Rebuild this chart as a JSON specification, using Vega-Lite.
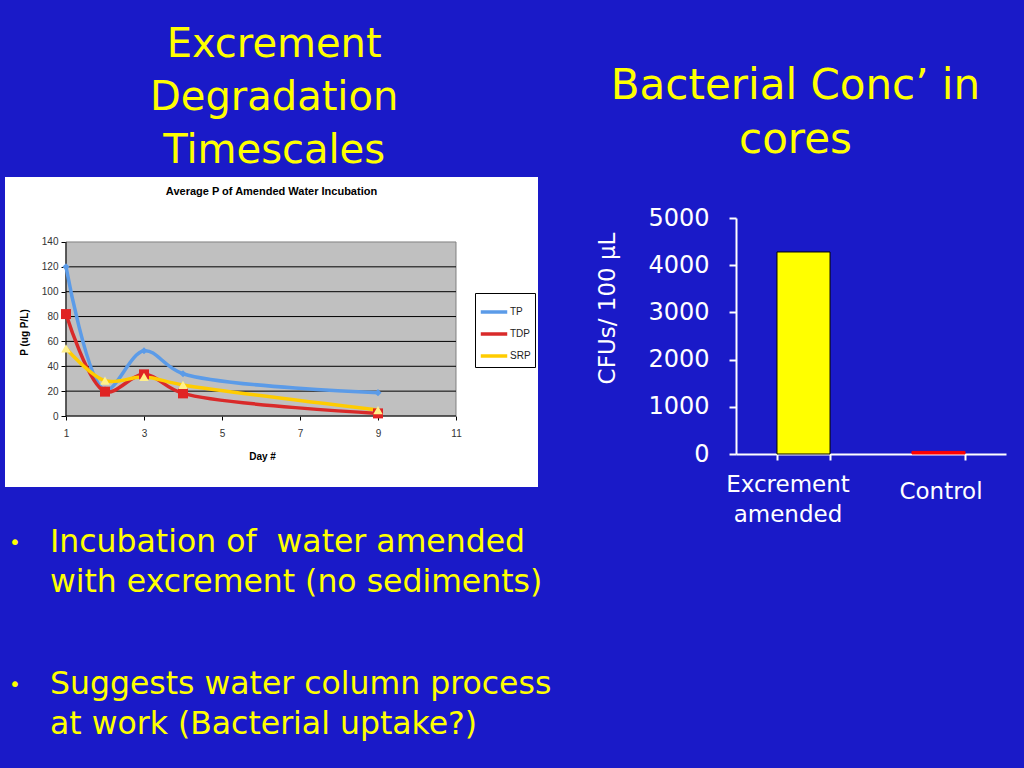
{
  "$schema": "https://vega.github.io/schema/vega-lite/v6.json",
  "background": "#1a1ac8",
  "padding": {"left": 5, "top": 25, "right": 18, "bottom": 23},
  "config": {"view": {"stroke": null}, "font": "DejaVu Sans"},
  "resolve": {
    "scale": {"fill": "independent", "stroke": "independent", "color": "independent"},
    "legend": {"fill": "independent", "stroke": "independent", "color": "independent"}
  },
  "datasets": {
    "phosphorus": [
      {"day": 1, "series": "TP", "value": 120},
      {"day": 2, "series": "TP", "value": 21},
      {"day": 3, "series": "TP", "value": 52.5},
      {"day": 4, "series": "TP", "value": 34},
      {"day": 9, "series": "TP", "value": 18.8},
      {"day": 1, "series": "TDP", "value": 82},
      {"day": 2, "series": "TDP", "value": 19.6},
      {"day": 3, "series": "TDP", "value": 33.5},
      {"day": 4, "series": "TDP", "value": 18.2},
      {"day": 9, "series": "TDP", "value": 2.1},
      {"day": 1, "series": "SRP", "value": 54.4},
      {"day": 2, "series": "SRP", "value": 28.4},
      {"day": 3, "series": "SRP", "value": 31.4},
      {"day": 4, "series": "SRP", "value": 25},
      {"day": 9, "series": "SRP", "value": 4.8}
    ],
    "grid": [{"g": 0}, {"g": 20}, {"g": 40}, {"g": 60}, {"g": 80}, {"g": 100}, {"g": 120}],
    "bacteria": [
      {"group": "Excrement amended", "cfu": 4280},
      {"group": "Control", "cfu": 55}
    ],
    "bullets1": [
      {"line": 1, "bullet": "•", "text": "Incubation of\u00a0 water amended"},
      {"line": 2, "bullet": "", "text": "with excrement (no sediments)"}
    ],
    "bullets2": [
      {"line": 1, "bullet": "•", "text": "Suggests water column process"},
      {"line": 2, "bullet": "", "text": "at work (Bacterial uptake?)"}
    ]
  },
  "spacing": 44,
  "hconcat": [
    {
      "title": {
        "text": ["Excrement", "Degradation", "Timescales"],
        "fontSize": 40, "font": "DejaVu Sans", "fontWeight": "normal",
        "color": "#ffff00", "lineHeight": 53, "anchor": "middle", "frame": "bounds", "offset": 6, "dx": -4
      },
      "spacing": 36,
      "vconcat": [
        {
          "width": 533,
          "height": 310,
          "view": {"fill": "#ffffff", "stroke": null},
          "title": {
            "text": "Average P of Amended Water Incubation",
            "font": "Liberation Sans", "fontSize": 11, "fontWeight": "bold", "color": "#000000",
            "anchor": "middle", "frame": "group", "offset": -29, "baseline": "alphabetic"
          },
          "layer": [
            {
              "data": {"values": [{}]},
              "mark": {"type": "rect", "fill": "#c0c0c0", "stroke": "#808080", "strokeWidth": 1},
              "encoding": {
                "x": {
                  "datum": 1, "type": "quantitative",
                  "scale": {"domain": [-0.5641, 13.1026], "nice": false, "zero": false},
                  "axis": {
                    "title": "Day #", "offset": -71, "values": [1, 3, 5, 7, 9, 11], "domain": false, "grid": false,
                    "tickColor": "#000000", "tickSize": 4, "labelFont": "Liberation Sans", "labelFontSize": 10,
                    "labelColor": "#333333", "labelPadding": 8, "titleFont": "Liberation Sans", "titleFontSize": 10,
                    "titleFontWeight": "bold", "titleColor": "#000000", "titlePadding": 13, "titleX": 257
                  }
                },
                "x2": {"datum": 11},
                "y": {
                  "datum": 0, "type": "quantitative",
                  "scale": {"domain": [-57.12, 192.28], "nice": false, "zero": false},
                  "axis": {
                    "title": "P (ug P/L)", "offset": -61, "values": [0, 20, 40, 60, 80, 100, 120, 140], "domain": false, "grid": false,
                    "tickColor": "#000000", "tickSize": 5, "labelFont": "Liberation Sans", "labelFontSize": 10,
                    "labelColor": "#333333", "labelPadding": 3, "titleFont": "Liberation Sans", "titleFontSize": 10,
                    "titleFontWeight": "bold", "titleColor": "#000000", "titlePadding": 12
                  }
                },
                "y2": {"datum": 140}
              }
            },
            {
              "data": {"name": "grid"},
              "mark": {"type": "rule", "color": "#000000", "strokeWidth": 1},
              "encoding": {
                "x": {"datum": 1, "type": "quantitative", "axis": {"title": "Day #"}},
                "x2": {"datum": 11},
                "y": {"field": "g", "type": "quantitative", "axis": {"title": "P (ug P/L)"}}
              }
            },
            {
              "data": {"values": [{}]},
              "mark": {"type": "rule", "color": "#000000", "strokeWidth": 1},
              "encoding": {
                "x": {"datum": 1, "type": "quantitative", "axis": {"title": "Day #"}},
                "y": {"datum": 0, "type": "quantitative", "axis": {"title": "P (ug P/L)"}},
                "y2": {"datum": 140}
              }
            },
            {
              "data": {"name": "phosphorus"},
              "mark": {"type": "line", "interpolate": "catmull-rom", "strokeWidth": 3.5},
              "encoding": {
                "x": {"field": "day", "type": "quantitative", "axis": {"title": "Day #"}},
                "y": {"field": "value", "type": "quantitative", "axis": {"title": "P (ug P/L)"}},
                "color": {
                  "field": "series", "type": "nominal",
                  "scale": {"domain": ["TP", "TDP", "SRP"], "range": ["#5b9be8", "#d92a2a", "#ffcc00"]},
                  "legend": {
                    "title": null, "orient": "none", "legendX": 470, "legendY": 116,
                    "symbolType": "stroke", "symbolSize": 700, "symbolStrokeWidth": 3.5,
                    "labelFont": "Liberation Sans", "labelFontSize": 10, "labelColor": "#222222",
                    "strokeColor": "#000000", "fillColor": "#ffffff", "padding": 4, "rowPadding": 0, "labelOffset": 1
                  }
                }
              }
            },
            {
              "data": {"name": "phosphorus"},
              "transform": [{"filter": "datum.series === 'TP'"}],
              "mark": {"type": "point", "shape": "diamond", "filled": true, "opacity": 1, "size": 50, "color": "#5b9be8"},
              "encoding": {
                "x": {"field": "day", "type": "quantitative", "axis": {"title": "Day #"}},
                "y": {"field": "value", "type": "quantitative", "axis": {"title": "P (ug P/L)"}}
              }
            },
            {
              "data": {"name": "phosphorus"},
              "transform": [{"filter": "datum.series === 'TDP'"}],
              "mark": {"type": "point", "shape": "square", "filled": true, "opacity": 1, "size": 100, "color": "#e02424"},
              "encoding": {
                "x": {"field": "day", "type": "quantitative", "axis": {"title": "Day #"}},
                "y": {"field": "value", "type": "quantitative", "axis": {"title": "P (ug P/L)"}}
              }
            },
            {
              "data": {"name": "phosphorus"},
              "transform": [{"filter": "datum.series === 'SRP'"}],
              "mark": {"type": "point", "shape": "triangle-up", "filled": true, "opacity": 1, "size": 90, "color": "#fff08a"},
              "encoding": {
                "x": {"field": "day", "type": "quantitative", "axis": {"title": "Day #"}},
                "y": {"field": "value", "type": "quantitative", "axis": {"title": "P (ug P/L)"}}
              }
            }
          ]
        },
        {
          "spacing": 62,
          "vconcat": [
            {
              "width": 533,
              "height": 80,
              "data": {"name": "bullets1"},
              "encoding": {
                "y": {"field": "line", "type": "ordinal", "axis": null, "scale": {"type": "point", "padding": 0.5}},
                "x": {"datum": 0, "type": "quantitative", "scale": {"domain": [0, 1]}, "axis": null}
              },
              "layer": [
                {
                  "mark": {"type": "text", "align": "center", "baseline": "middle", "fontSize": 20, "color": "#ffff00", "dx": 10},
                  "encoding": {"text": {"field": "bullet"}}
                },
                {
                  "mark": {"type": "text", "align": "left", "baseline": "middle", "fontSize": 31.5, "color": "#ffff00", "dx": 45},
                  "encoding": {"text": {"field": "text"}}
                }
              ]
            },
            {
              "width": 533,
              "height": 80,
              "data": {"name": "bullets2"},
              "encoding": {
                "y": {"field": "line", "type": "ordinal", "axis": null, "scale": {"type": "point", "padding": 0.5}},
                "x": {"datum": 0, "type": "quantitative", "scale": {"domain": [0, 1]}, "axis": null}
              },
              "layer": [
                {
                  "mark": {"type": "text", "align": "center", "baseline": "middle", "fontSize": 20, "color": "#ffff00", "dx": 10},
                  "encoding": {"text": {"field": "bullet"}}
                },
                {
                  "mark": {"type": "text", "align": "left", "baseline": "middle", "fontSize": 31.5, "color": "#ffff00", "dx": 45},
                  "encoding": {"text": {"field": "text"}}
                }
              ]
            }
          ]
        }
      ]
    },
    {
      "bounds": "flush",
      "spacing": 40,
      "vconcat": [
        {
          "width": 270,
          "height": 1,
          "data": {"values": []},
          "mark": "point",
          "encoding": {}
        },
        {
          "width": 270,
          "height": 236,
          "title": {
            "text": ["Bacterial Conc’ in", "cores"],
            "fontSize": 42, "font": "DejaVu Sans", "fontWeight": "normal",
            "color": "#ffff00", "lineHeight": 54, "anchor": "middle", "frame": "bounds", "offset": 44, "dx": -6
          },
          "data": {"name": "bacteria"},
          "mark": {"type": "bar", "strokeWidth": 1},
          "encoding": {
            "x": {
              "field": "group", "type": "nominal", "sort": null,
              "scale": {"paddingInner": 0.607, "paddingOuter": 0.3035},
              "axis": {
                "title": null, "labelAngle": 0, "labelExpr": "split(datum.label, ' ')",
                "labelFont": "DejaVu Sans", "labelFontSize": 23, "labelColor": "#ffffff",
                "labelBaseline": {"condition": {"test": "datum.value === 'Control'", "value": "middle"}, "value": "alphabetic"},
                "labelOffset": {"condition": {"test": "datum.value === 'Control'", "value": 2}, "value": -16},
                "labelLineHeight": 30, "labelPadding": 31,
                "tickBand": "extent", "tickColor": "#ffffff", "tickSize": 6, "tickWidth": 2,
                "domainColor": "#ffffff", "domainWidth": 2
              }
            },
            "y": {
              "field": "cfu", "type": "quantitative",
              "scale": {"domain": [0, 5000], "nice": false},
              "axis": {
                "title": "CFUs/ 100 μL", "values": [0, 1000, 2000, 3000, 4000, 5000], "format": "d", "grid": false,
                "labelFont": "DejaVu Sans", "labelFontSize": 24, "labelColor": "#ffffff", "labelPadding": 20,
                "tickColor": "#ffffff", "tickSize": 7, "tickWidth": 2,
                "domainColor": "#ffffff", "domainWidth": 2,
                "titleFont": "DejaVu Sans", "titleFontSize": 23, "titleFontWeight": "normal", "titleColor": "#ffffff",
                "titlePadding": 28, "titleY": 90
              }
            },
            "fill": {
              "field": "group", "type": "nominal",
              "scale": {"domain": ["Excrement amended", "Control"], "range": ["#ffff00", "#ff0000"]},
              "legend": null
            },
            "stroke": {
              "field": "group", "type": "nominal",
              "scale": {"domain": ["Excrement amended", "Control"], "range": ["#000000", "#ff0000"]},
              "legend": null
            }
          }
        }
      ]
    }
  ]
}
